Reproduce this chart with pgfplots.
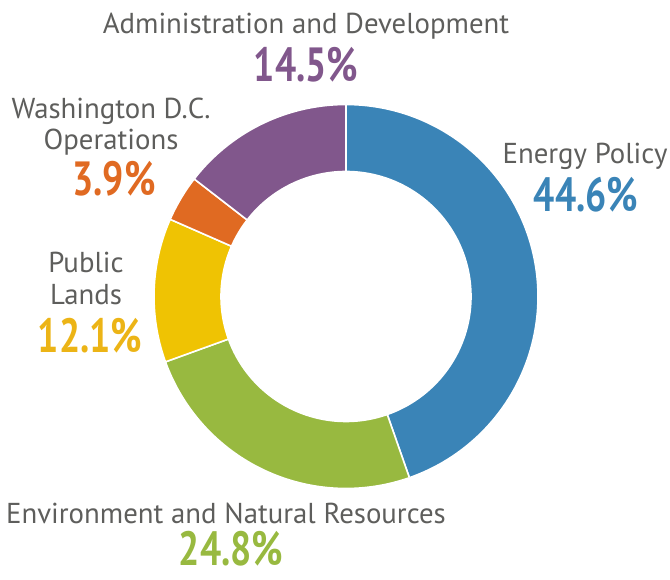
\documentclass[border=0pt]{standalone}
\usepackage{pgfplots}
\pgfplotsset{compat=1.18}
\usepackage{pgfplotstable}
\usepackage{graphicx}
\usepackage{fontspec}
\setmainfont{PT Sans}
\definecolor{slice0}{HTML}{3A84B7}
\definecolor{slice1}{HTML}{98B940}
\definecolor{slice2}{HTML}{EFC303}
\definecolor{slice3}{HTML}{E06A22}
\definecolor{slice4}{HTML}{81578C}
\definecolor{num2}{HTML}{ECB416}
\definecolor{labgray}{HTML}{5E5E5C}
\pgfplotstableread{
share
44.6
24.8
12.1
3.9
14.5
}\sharetable
\newcommand\lab[1]{{\fontsize{28.8}{28.8}\selectfont\color{labgray}#1}}
\newcommand\pct[2]{\scalebox{0.78}[1]{\fontsize{48}{48}\selectfont\bfseries\color{#1}#2}}
\begin{document}
\begin{tikzpicture}
\begin{axis}[width=670pt,height=580pt,scale only axis,
  xmin=0,xmax=670,ymin=0,ymax=580,hide axis,clip=false]
\def\cum{0}
\pgfplotsforeachungrouped \i in {0,...,4}{%
  \pgfplotstablegetelem{\i}{share}\of\sharetable
  \pgfmathsetmacro\A{90-\cum*3.603604}%
  \pgfmathsetmacro\cum{\cum+\pgfplotsretval}%
  \pgfmathsetmacro\B{90-\cum*3.603604}%
  \edef\cmd{\noexpand\addplot[fill=slice\i, draw=white, line width=1.6pt, line join=round,
     domain=0:2.4, samples=241]
     ({346+(x<1.1 ? 192 : (x<2.3 ? 125 : 192))*cos(x<1.1 ? (\A)+((\B)-(\A))*min(x,1) : (\B)-((\B)-(\A))*min(max(x-1.2,0),1))},
      {283.5+(x<1.1 ? 192 : (x<2.3 ? 125 : 192))*sin(x<1.1 ? (\A)+((\B)-(\A))*min(x,1) : (\B)-((\B)-(\A))*min(max(x-1.2,0),1))});}%
  \cmd
}
\path (axis cs:0,0) (axis cs:670,580);
\begin{scope}[every node/.style={anchor=base,inner sep=0pt}]
\node at (axis cs:306,546) {\lab{Administration and Development}};
\node at (axis cs:306,498) {\pct{slice4}{14.5\%}};
\node at (axis cs:111,461) {\lab{Washington D.C.}};
\node at (axis cs:111,430) {\lab{Operations}};
\node at (axis cs:114,384) {\pct{slice3}{3.9\%}};
\node at (axis cs:585,416) {\lab{Energy Policy}};
\node at (axis cs:586,368) {\pct{slice0}{44.6\%}};
\node at (axis cs:86,307) {\lab{Public}};
\node at (axis cs:86,275) {\lab{Lands}};
\node at (axis cs:90,227) {\pct{num2}{12.1\%}};
\node at (axis cs:226,56) {\lab{Environment and Natural Resources}};
\node at (axis cs:231,14) {\pct{slice1}{24.8\%}};
\end{scope}
\end{axis}
\end{tikzpicture}
\end{document}
